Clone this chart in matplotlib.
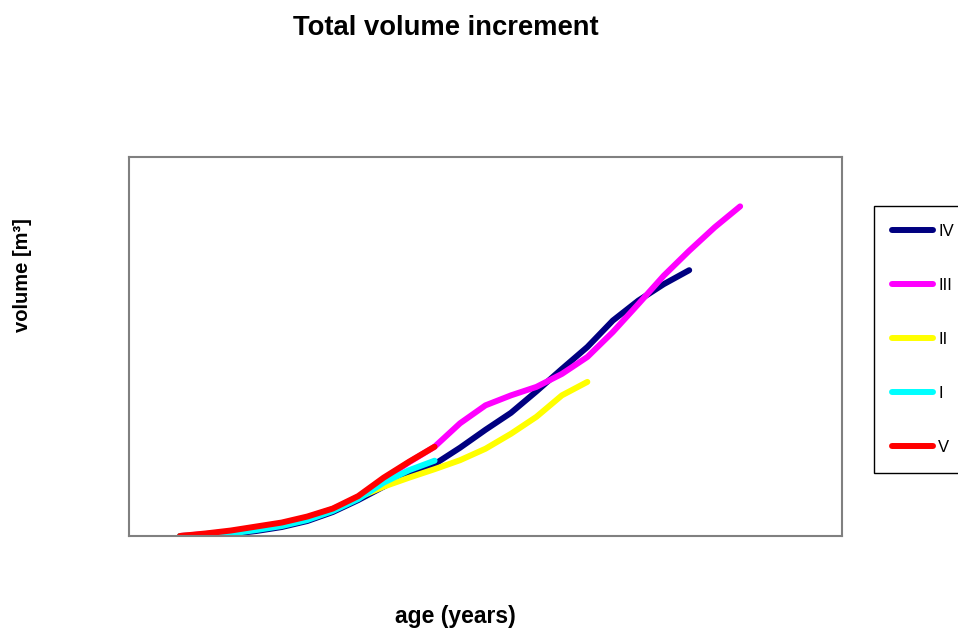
#!/usr/bin/env python3

import matplotlib
matplotlib.use("Agg")
import matplotlib.pyplot as plt

plt.rcParams["font.family"] = ["Liberation Sans", "DejaVu Sans"]

# volume, one list per site class, every 5 years from age 10
age_iv = [10, 15, 20, 25, 30, 35, 40, 45, 50, 55, 60, 65, 70, 75, 80, 85, 90, 95, 100, 105, 110]
vol_iv = [0, 1, 4, 10, 18, 30, 48, 72, 99, 126, 144, 177, 213, 247, 290, 335, 379, 432, 472, 505, 533]

age_iii = [10, 15, 20, 25, 30, 35, 40, 45, 50, 55, 60, 65, 70, 75, 80, 85, 90, 95, 100, 105, 110, 115, 120]
vol_iii = [0, 4, 9, 16, 25, 37, 54, 78, 114, 148, 179, 226, 262, 282, 299, 325, 359, 409, 465, 522, 572, 619, 661]

age_ii = [10, 15, 20, 25, 30, 35, 40, 45, 50, 55, 60, 65, 70, 75, 80, 85, 90]
vol_ii = [0, 2, 6, 14, 24, 36, 54, 77, 99, 117, 134, 152, 175, 205, 239, 282, 309]

age_i = [10, 15, 20, 25, 30, 35, 40, 45, 50, 55, 60]
vol_i = [0, 1, 5, 12, 20, 32, 50, 74, 107, 132, 151]

age_v = [10, 15, 20, 25, 30, 35, 40, 45, 50, 55, 60]
vol_v = [0, 5, 11, 19, 27, 39, 55, 80, 117, 149, 179]

labels = ["IV", "III", "II", "I", "V"]
colors = ["#000080", "#ff00ff", "#ffff00", "#00ffff", "#ff0000"]


def main():
	fig = plt.figure(figsize=(9.58, 6.29), dpi=100)
	ax = fig.add_axes([129 / 958, 93 / 629, 713 / 958, 379 / 629])

	series = [(age_iv, vol_iv), (age_iii, vol_iii), (age_ii, vol_ii), (age_i, vol_i), (age_v, vol_v)]
	for (x, y), lab, col in zip(series, labels, colors):
		ax.plot(x, y, color=col, lw=4.3, label=lab, solid_capstyle="round", solid_joinstyle="round")

	ax.set_xlim(0, 140)
	ax.set_ylim(0, 760)
	ax.set_xticks([])
	ax.set_yticks([])
	for sp in ax.spines.values():
		sp.set_color("#808080")
		sp.set_linewidth(1.5)

	fig.text(446 / 958, 1 - 28 / 629, "Total volume increment", ha="center", va="center",
		fontsize=19.7, fontweight="bold")
	fig.text(455 / 958, 1 - 616 / 629, "age (years)", ha="center", va="center",
		fontsize=16.5, fontweight="bold")
	fig.text(23 / 958, 1 - 275 / 629, "volume [m³]", ha="center", va="center", rotation=90,
		fontsize=14.5, fontweight="bold")

	leg = fig.legend(loc="upper left", bbox_to_anchor=(874 / 958, 1 - 206 / 629),
		fontsize=12, frameon=True, fancybox=False, framealpha=1, edgecolor="black",
		handlelength=2.45, handletextpad=0.3, labelspacing=2.33, borderpad=1.1,
		borderaxespad=0)
	leg.get_frame().set_linewidth(1.0)
	for line in leg.get_lines():
		line.set_linewidth(4.3)
		line.set_solid_capstyle("round")

	fig.savefig("out.png", dpi=100)


if __name__ == "__main__":
	main()
